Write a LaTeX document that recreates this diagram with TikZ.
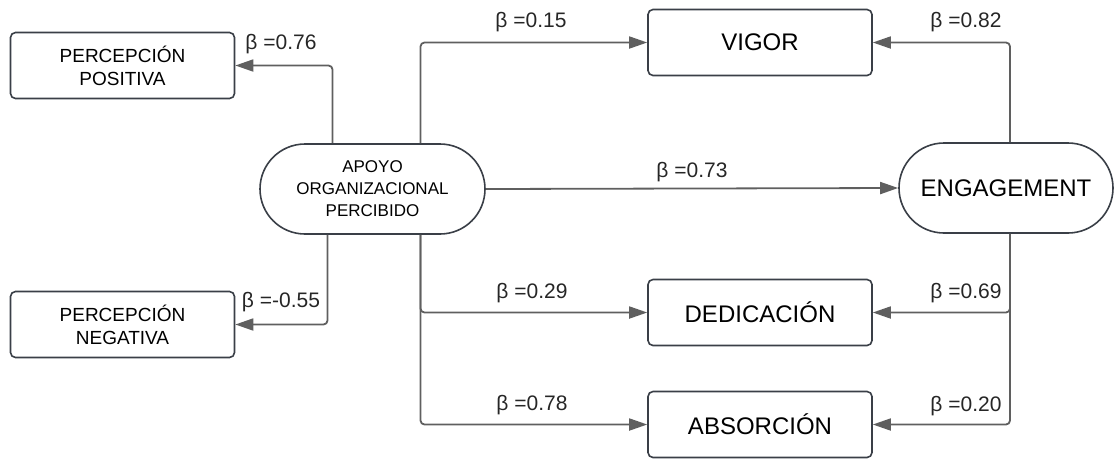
\documentclass[tikz,border=0pt]{standalone}
\usepackage{fontspec}
\setmainfont{Liberation Sans}
\usetikzlibrary{arrows.meta,shapes.misc}

\definecolor{edgegray}{HTML}{5F5F5F}
\definecolor{boxline}{HTML}{3A3F47}

\tikzset{
    box/.style={draw=boxline, line width=1.6pt, rounded corners=5pt, fill=white,
        minimum width=224pt, minimum height=66pt, align=center, inner sep=2pt},
    pill/.style={draw=boxline, line width=1.6pt, rounded rectangle, fill=white,
        minimum height=90pt, align=center, inner sep=2pt},
    link/.style={draw=edgegray, line width=1.8pt, rounded corners=4pt,
        -{Triangle[length=18pt, width=12pt]}},
    coef/.style={font=\fontsize{21}{25}\selectfont, text=black!85, inner sep=0pt}
}

\begin{document}
\begin{tikzpicture}[x=1pt, y=-1pt]
    \useasboundingbox (0,0) rectangle (1116,459);
    % boxes
    \node[box, font=\fontsize{19}{23}\selectfont] (pos) at (122.5,65.5) {PERCEPCIÓN\\POSITIVA};
    \node[box, font=\fontsize{19}{23}\selectfont] (neg) at (122.5,324.5) {PERCEPCIÓN\\NEGATIVA};
    \node[pill, minimum width=229pt, font=\fontsize{17}{22}\selectfont] (apoyo) at (372.5,189) {APOYO\\ORGANIZACIONAL\\PERCIBIDO};
    \node[pill, minimum width=218pt, font=\fontsize{24}{28}\selectfont] (engage) at (1006,188) {ENGAGEMENT};
    \node[box, font=\fontsize{24}{28}\selectfont] (vigor) at (760,42.5) {VIGOR};
    \node[box, font=\fontsize{24}{28}\selectfont] (dedic) at (760,312.5) {DEDICACIÓN};
    \node[box, font=\fontsize{24}{28}\selectfont] (absor) at (760,424.5) {ABSORCIÓN};
    % connectors
    \draw[link] ([xshift=-40pt]apoyo.north) |- (pos.east);
    \draw[link] ([xshift=-45pt]apoyo.south) |- (neg.east);
    \draw[link] ([xshift=48pt]apoyo.north) |- (vigor.west);
    \draw[link] ([xshift=48pt]apoyo.south) |- (dedic.west);
    \draw[link] ([xshift=48pt]apoyo.south) |- (absor.west);
    \draw[link] (apoyo.east) -- (engage.west);
    \draw[link] ([xshift=4pt]engage.north) |- (vigor.east);
    \draw[link] ([xshift=4pt]engage.south) |- (dedic.east);
    \draw[link] ([xshift=4pt]engage.south) |- (absor.east);
    % coefficients
    \node[coef] (bpos) at (281,44) {β =0.76};
    \node[coef] (bneg) at (281,302.5) {β =-0.55};
    \node[coef] (bvig) at (531,22) {β =0.15};
    \node[coef] (beng) at (692,172) {β =0.73};
    \node[coef] (bded) at (532,293) {β =0.29};
    \node[coef] (babs) at (532,405) {β =0.78};
    \node[coef] (evig) at (966,22) {β =0.82};
    \node[coef] (eded) at (966,293) {β =0.69};
    \node[coef] (eabs) at (966,406) {β =0.20};
\end{tikzpicture}
\end{document}
